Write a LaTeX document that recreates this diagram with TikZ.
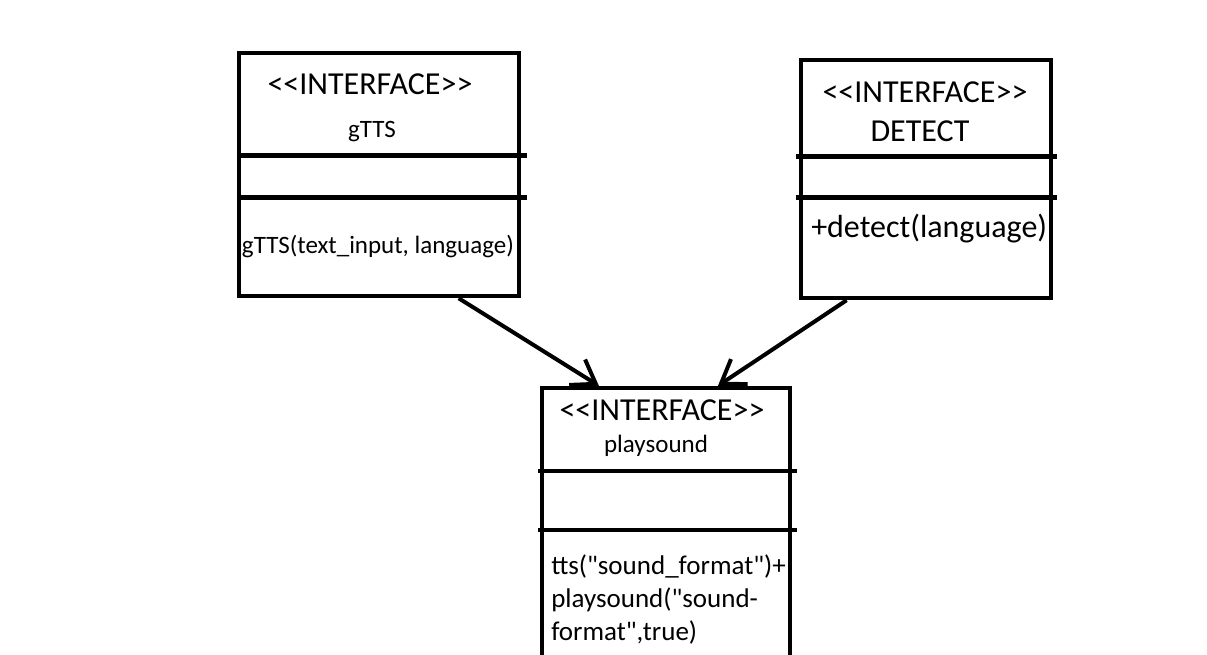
\documentclass[tikz,border=0pt]{standalone}
\usepackage{fontspec}
\newfontfamily\umlfont{Carlito}
\usetikzlibrary{arrows.meta,calc}

\begin{document}
\begin{tikzpicture}[x=1pt,y=-1pt,line width=4.5pt,
    >={Straight Barb[length=22pt,width=30pt,line width=4pt]},
    box/.style={draw,rectangle,inner sep=0pt},
    big/.style={inner sep=0pt,font=\umlfont\fontsize{32}{38}\selectfont},
    small/.style={inner sep=0pt,font=\umlfont\fontsize{25}{30}\selectfont}]
    \useasboundingbox (0,0) rectangle (1207,655);
    % the three interface boxes
    \node[box,minimum width=280pt,minimum height=243pt] (gtts) at (379,174.5) {};
    \node[box,minimum width=250pt,minimum height=238pt] (detect) at (926,179) {};
    \node[box,minimum width=248pt,minimum height=280pt] (play) at (666,528) {};
    % compartments
    \draw ($(gtts.north west)+(0,105)$) -- ($(gtts.north east)+(6,105)$);
    \draw ($(gtts.north west)+(0,147)$) -- ($(gtts.north east)+(6,147)$);
    \draw ($(detect.north west)+(-3,99)$) -- ($(detect.north east)+(4,99)$);
    \draw ($(detect.north west)+(-3,140)$) -- ($(detect.north east)+(4,140)$);
    \draw ($(play.north west)+(-2,85)$) -- ($(play.north east)+(5,85)$);
    \draw ($(play.north west)+(-2,144)$) -- ($(play.north east)+(5,144)$);
    % texts
    \node[big] (gtts-st) at (370,84) {<<INTERFACE>>};
    \node[small] (gtts-nm) at (372,132) {gTTS};
    \node[small] (gtts-op) at (378,247) {gTTS(text\_input, language)};
    \node[big] (det-st) at (925,92) {<<INTERFACE>>};
    \node[big] (det-nm) at (920,131) {DETECT};
    \node[big,anchor=west] (det-op) at (809,229) {+detect(language)};
    \node[big] (play-st) at (662,410) {<<INTERFACE>>};
    \node[small] (play-nm) at (656,446) {playsound};
    \node[anchor=west,align=left,inner sep=0pt,
          font=\umlfont\fontsize{27}{33}\selectfont] (play-op) at (549,599)
          {tts("sound\_format")+\\playsound("sound-\\format",true)};
    % dependencies
    \draw[->,line width=4pt] ($(gtts.south west)!0.78!(gtts.south east)$)
          -- ($(play.north west)!0.234!(play.north east)$);
    \draw[->,line width=4pt] ($(detect.south west)!0.188!(detect.south east)$)
          -- ($(play.north west)!0.706!(play.north east)$);
\end{tikzpicture}
\end{document}
